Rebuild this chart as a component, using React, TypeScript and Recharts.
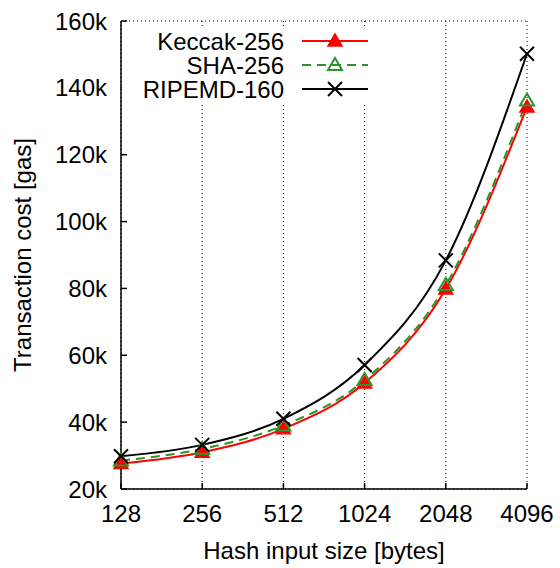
import React from 'react';
import {
  LineChart,
  Line,
  XAxis,
  YAxis,
  CartesianGrid,
  Legend,
} from 'recharts';

const sizes = ['128', '256', '512', '1024', '2048', '4096'];
const keccak = [27600, 31000, 38000, 51700, 79800, 134300];
const sha = [28500, 32000, 39000, 52600, 81000, 136200];
const ripemd = [29800, 33200, 41000, 57100, 88400, 150200];
const yTicks = [20000, 40000, 60000, 80000, 100000, 120000, 140000, 160000];

const RED = '#ff0000';
const GREEN = '#2a942a';
const BLACK = '#000000';
const FONT = '"Liberation Sans", Arial, Helvetica, sans-serif';

const data = sizes.map((s, i) => ({
  size: s,
  keccak: keccak[i],
  sha: sha[i],
  ripemd: ripemd[i],
}));

type Marker = 'filledTri' | 'openTri' | 'cross';

const MarkerShape = ({ cx, cy, kind, color }: { cx: number; cy: number; kind: Marker; color: string }) => {
  if (cx == null || cy == null) return null;
  if (kind === 'cross') {
    const r = 7;
    return (
      <g stroke={color} strokeWidth={2}>
        <line x1={cx - r} y1={cy - r} x2={cx + r} y2={cy + r} />
        <line x1={cx - r} y1={cy + r} x2={cx + r} y2={cy - r} />
      </g>
    );
  }
  const pts = `${cx},${cy - 7} ${cx - 7},${cy + 5} ${cx + 7},${cy + 5}`;
  return kind === 'filledTri' ? (
    <polygon points={pts} fill={color} stroke={color} strokeWidth={1.5} />
  ) : (
    <polygon points={pts} fill="none" stroke={color} strokeWidth={2} />
  );
};

const series = [
  { key: 'keccak', name: 'Keccak-256', color: RED, marker: 'filledTri' as Marker, dash: undefined },
  { key: 'sha', name: 'SHA-256', color: GREEN, marker: 'openTri' as Marker, dash: '9 6' },
  { key: 'ripemd', name: 'RIPEMD-160', color: BLACK, marker: 'cross' as Marker, dash: undefined },
];

const LegendBox = () => (
  <svg width={250} height={76} style={{ display: 'block', background: '#fff' }}>
    {series.map((s, i) => {
      const y = 14 + i * 24;
      return (
        <g key={s.key}>
          <text
            x={162}
            y={y}
            textAnchor="end"
            dominantBaseline="central"
            fontSize={24}
            fontFamily={FONT}
            fill="#000"
          >
            {s.name}
          </text>
          <line x1={180} x2={246} y1={y} y2={y} stroke={s.color} strokeWidth={2} strokeDasharray={s.dash} />
          <MarkerShape cx={213} cy={y} kind={s.marker} color={s.color} />
        </g>
      );
    })}
  </svg>
);

const YLabel = ({ viewBox }: any) => {
  const x = viewBox.x + 22;
  const y = viewBox.y + viewBox.height / 2;
  return (
    <text
      x={x}
      y={y}
      transform={`rotate(-90, ${x}, ${y})`}
      textAnchor="middle"
      dominantBaseline="central"
      fontSize={24}
      fontFamily={FONT}
      fill="#000"
    >
      Transaction cost [gas]
    </text>
  );
};

const tickStyle = { fontSize: 24, fontFamily: FONT, fill: '#000' };

export default function App() {
  return (
    <div style={{ position: 'absolute', left: 0, top: 0, width: 560, height: 568, background: '#fff' }}>
      <LineChart width={560} height={568} data={data} margin={{ top: 21, right: 33, bottom: 0, left: 0 }}>
        <CartesianGrid stroke="#000" strokeWidth={1} strokeDasharray="1 3" />
        <XAxis
          dataKey="size"
          xAxisId="bottom"
          height={79}
          tick={tickStyle}
          tickSize={-6}
          tickMargin={22}
          tickLine={{ stroke: '#000', strokeWidth: 1.5 }}
          axisLine={{ stroke: '#000', strokeWidth: 1.5 }}
          label={{ value: 'Hash input size [bytes]', position: 'insideBottom', offset: 9, style: tickStyle }}
        />
        <XAxis
          dataKey="size"
          xAxisId="top"
          orientation="top"
          height={0}
          tickSize={-6}
          tickFormatter={() => ''}
          tickLine={{ stroke: '#000', strokeWidth: 1.5 }}
          axisLine={{ stroke: '#000', strokeWidth: 1.5 }}
        />
        <YAxis
          yAxisId="left"
          width={121}
          domain={[20000, 160000]}
          ticks={yTicks}
          interval={0}
          tick={tickStyle}
          tickSize={-6}
          tickMargin={20}
          tickFormatter={(v: number) => `${v / 1000}k`}
          tickLine={{ stroke: '#000', strokeWidth: 1.5 }}
          axisLine={{ stroke: '#000', strokeWidth: 1.5 }}
          label={<YLabel />}
        />
        <YAxis
          yAxisId="right"
          orientation="right"
          width={0}
          domain={[20000, 160000]}
          ticks={yTicks}
          interval={0}
          tickSize={-6}
          tickFormatter={() => ''}
          tickLine={{ stroke: '#000', strokeWidth: 1.5 }}
          axisLine={{ stroke: '#000', strokeWidth: 1.5 }}
        />
        <Legend
          layout="horizontal"
          verticalAlign="middle"
          align="center"
          content={<LegendBox />}
          wrapperStyle={{ position: 'absolute', left: 122, top: 27, width: 250, height: 76 }}
        />
        {series.map((s) => (
          <Line
            key={s.key}
            xAxisId="bottom"
            yAxisId="left"
            type="monotone"
            dataKey={s.key}
            name={s.name}
            stroke={s.color}
            strokeWidth={2}
            strokeDasharray={s.dash}
            dot={(p: any) => <MarkerShape key={`${s.key}-${p.index}`} cx={p.cx} cy={p.cy} kind={s.marker} color={s.color} />}
            activeDot={false}
            isAnimationActive={false}
          />
        ))}
      </LineChart>
    </div>
  );
}
